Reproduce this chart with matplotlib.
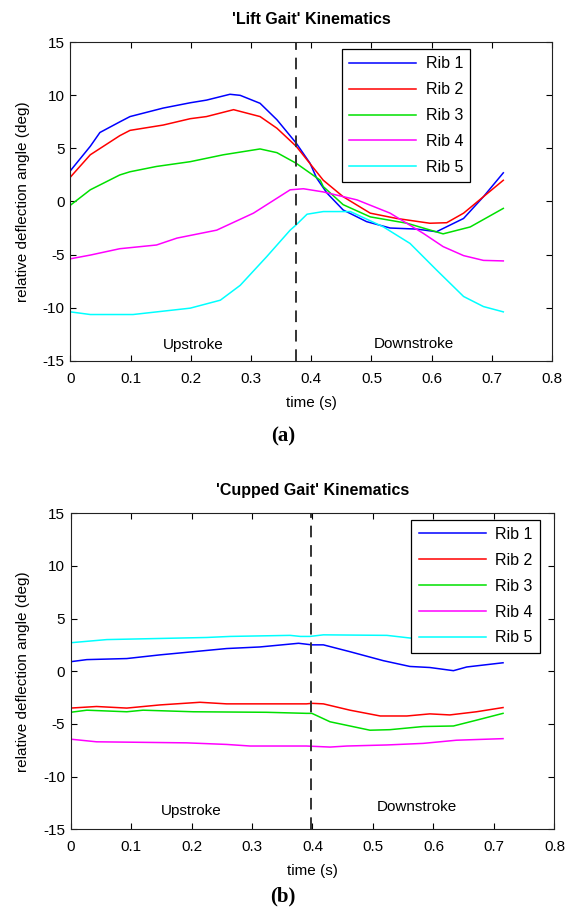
import matplotlib
matplotlib.use("Agg")
import matplotlib.pyplot as plt

# ---------------- data: 'Lift Gait' ----------------
lift_t1 = [0.0, 0.033, 0.049, 0.082, 0.099, 0.154, 0.199, 0.226, 0.265, 0.282, 0.315, 0.343, 0.375, 0.398, 0.409, 0.426, 0.453, 0.492, 0.531, 0.575, 0.608, 0.653, 0.686, 0.719]
lift_r1 = [2.9, 5.2, 6.5, 7.5, 8.0, 8.8, 9.3, 9.55, 10.1, 10.0, 9.25, 7.7, 5.5, 3.6, 2.2, 0.8, -0.8, -1.9, -2.5, -2.6, -2.85, -1.6, 0.45, 2.7]

lift_t2 = [0.0, 0.033, 0.082, 0.099, 0.154, 0.199, 0.226, 0.271, 0.315, 0.343, 0.375, 0.42, 0.453, 0.498, 0.542, 0.597, 0.625, 0.653, 0.686, 0.719]
lift_r2 = [2.3, 4.4, 6.2, 6.7, 7.2, 7.8, 8.0, 8.65, 8.0, 6.9, 5.2, 2.0, 0.45, -1.1, -1.6, -2.05, -2.0, -1.1, 0.45, 2.0]

lift_t3 = [0.0, 0.033, 0.082, 0.099, 0.143, 0.199, 0.254, 0.315, 0.343, 0.375, 0.415, 0.42, 0.453, 0.498, 0.559, 0.619, 0.664, 0.719]
lift_r3 = [-0.35, 1.1, 2.5, 2.8, 3.3, 3.75, 4.4, 4.95, 4.6, 3.6, 2.0, 1.4, -0.3, -1.45, -2.05, -3.05, -2.4, -0.65]

lift_t4 = [0.0, 0.033, 0.082, 0.143, 0.177, 0.243, 0.304, 0.365, 0.387, 0.42, 0.476, 0.531, 0.586, 0.619, 0.653, 0.686, 0.719]
lift_r4 = [-5.4, -5.05, -4.45, -4.1, -3.45, -2.7, -1.1, 1.1, 1.2, 0.9, 0.15, -1.1, -3.0, -4.25, -5.1, -5.55, -5.6]

lift_t5 = [0.0, 0.033, 0.104, 0.199, 0.249, 0.282, 0.326, 0.365, 0.375, 0.393, 0.42, 0.465, 0.52, 0.564, 0.608, 0.653, 0.686, 0.719]
lift_r5 = [-10.4, -10.65, -10.65, -10.05, -9.3, -7.9, -5.2, -2.7, -2.2, -1.2, -0.95, -0.95, -2.4, -3.95, -6.45, -8.95, -9.9, -10.4]

# ---------------- data: 'Cupped Gait' ----------------
cup_t1 = [0.0, 0.027, 0.093, 0.148, 0.203, 0.258, 0.313, 0.377, 0.399, 0.418, 0.462, 0.517, 0.561, 0.594, 0.633, 0.655, 0.715]
cup_r1 = [0.9, 1.1, 1.2, 1.55, 1.85, 2.15, 2.3, 2.65, 2.5, 2.5, 1.85, 1.0, 0.45, 0.35, 0.05, 0.4, 0.8]

cup_t2 = [0.0, 0.043, 0.093, 0.148, 0.214, 0.258, 0.39, 0.399, 0.418, 0.462, 0.512, 0.556, 0.594, 0.627, 0.671, 0.715]
cup_r2 = [-3.5, -3.35, -3.5, -3.2, -2.95, -3.1, -3.1, -3.05, -3.1, -3.7, -4.25, -4.25, -4.05, -4.15, -3.85, -3.45]

cup_t3 = [0.0, 0.027, 0.093, 0.12, 0.203, 0.324, 0.39, 0.399, 0.429, 0.495, 0.528, 0.583, 0.633, 0.671, 0.715]
cup_r3 = [-3.9, -3.7, -3.85, -3.7, -3.85, -3.9, -4.0, -4.0, -4.8, -5.6, -5.55, -5.25, -5.2, -4.65, -4.0]

cup_t4 = [0.0, 0.043, 0.192, 0.258, 0.297, 0.39, 0.429, 0.457, 0.523, 0.583, 0.638, 0.715]
cup_r4 = [-6.45, -6.7, -6.8, -6.95, -7.1, -7.1, -7.2, -7.1, -7.0, -6.85, -6.55, -6.4]

cup_t5 = [0.0, 0.06, 0.225, 0.264, 0.363, 0.38, 0.396, 0.418, 0.523, 0.561, 0.6, 0.65, 0.715]
cup_r5 = [2.7, 3.0, 3.2, 3.3, 3.4, 3.3, 3.3, 3.45, 3.4, 3.15, 3.0, 2.8, 2.6]

rib_labels = ["Rib 1", "Rib 2", "Rib 3", "Rib 4", "Rib 5"]
x_ticks = [0, 0.1, 0.2, 0.3, 0.4, 0.5, 0.6, 0.7, 0.8]
x_tick_labels = ["0", "0.1", "0.2", "0.3", "0.4", "0.5", "0.6", "0.7", "0.8"]
y_ticks = [-15, -10, -5, 0, 5, 10, 15]
lift_split = 0.375
cup_split = 0.398

colors = ["#0000ff", "#ff0000", "#00e000", "#ff00ff", "#00ffff"]

plt.rcParams['font.family'] = ['Liberation Sans', 'DejaVu Sans']
plt.rcParams['axes.unicode_minus'] = False

fig = plt.figure(figsize=(5.66, 9.15), dpi=100)
ax1 = fig.add_axes([0.1244, 0.6058, 0.851, 0.348])
ax2 = fig.add_axes([0.1246, 0.0937, 0.855, 0.3455])


def style(ax, title, split, series_t, series_r, legend_loc):
    for t, r, c, lab in zip(series_t, series_r, colors, rib_labels):
        ax.plot(t, r, color=c, lw=1.1, label=lab)
    ax.axvline(split, color="#333333", lw=1.4, dashes=(6, 4))
    ax.set_xlim(0, 0.8)
    ax.set_ylim(-15, 15)
    ax.set_xticks(x_ticks)
    ax.set_xticklabels(x_tick_labels)
    ax.set_yticks(y_ticks)
    ax.tick_params(direction="in", top=True, right=True, labelsize=11, length=4, width=0.8)
    ax.tick_params(axis="x", pad=8)
    ax.tick_params(axis="y", pad=4)
    for s in ax.spines.values():
        s.set_linewidth(0.8)
        s.set_color("#222222")
    ax.set_title(title, fontsize=11.5, fontweight="bold", pad=13)
    ax.set_xlabel("time (s)", fontsize=11, labelpad=7)
    ax.set_ylabel("relative deflection angle (deg)", fontsize=11, labelpad=9)
    leg = ax.legend(loc="upper right", bbox_to_anchor=legend_loc, fontsize=11.5,
                    frameon=True, fancybox=False, edgecolor="black", framealpha=1,
                    handlelength=4.2, handletextpad=0.6, labelspacing=0.68, borderpad=0.45,
                    borderaxespad=0)
    leg.get_frame().set_linewidth(0.9)


style(ax1, "'Lift Gait' Kinematics", lift_split,
      [lift_t1, lift_t2, lift_t3, lift_t4, lift_t5],
      [lift_r1, lift_r2, lift_r3, lift_r4, lift_r5], (0.83, 0.978))
ax1.text(0.204, -13.5, "Upstroke", fontsize=11, ha="center", va="center")
ax1.text(0.57, -13.4, "Downstroke", fontsize=11, ha="center", va="center")

style(ax2, "'Cupped Gait' Kinematics", cup_split,
      [cup_t1, cup_t2, cup_t3, cup_t4, cup_t5],
      [cup_r1, cup_r2, cup_r3, cup_r4, cup_r5], (0.97, 0.979))
ax2.text(0.2, -13.3, "Upstroke", fontsize=11, ha="center", va="center")
ax2.text(0.572, -12.9, "Downstroke", fontsize=11, ha="center", va="center")

fig.text(0.5, 1 - 436 / 915, "(a)", fontsize=15, fontweight="bold",
         family=["Liberation Serif", "DejaVu Serif"], ha="center", va="center")
fig.text(0.5, 1 - 896 / 915, "(b)", fontsize=15, fontweight="bold",
         family=["Liberation Serif", "DejaVu Serif"], ha="center", va="center")

fig.savefig("out.png", dpi=100)
